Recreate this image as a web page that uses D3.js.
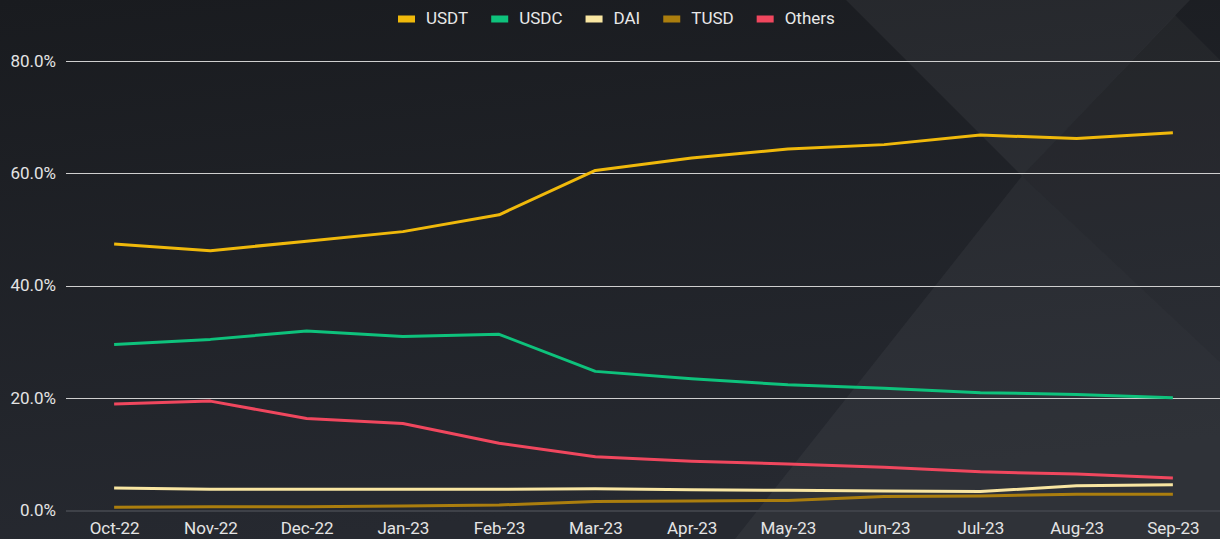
<!DOCTYPE html>
<html>
<head>
<meta charset="utf-8">
<script src="https://cdn.jsdelivr.net/npm/d3@7"></script>
<style>
  html, body { margin: 0; padding: 0; background: #1d1f24; }
  svg { display: block; }
  text { font-family: Roboto, "Liberation Sans", Arial, sans-serif; }
</style>
</head>
<body>
<svg id="chart" width="1220" height="539"></svg>
<script>
const months = ["Oct-22","Nov-22","Dec-22","Jan-23","Feb-23","Mar-23","Apr-23","May-23","Jun-23","Jul-23","Aug-23","Sep-23"];
const usdt   = [47.4, 46.2, 47.9, 49.6, 52.6, 60.5, 62.7, 64.3, 65.1, 66.8, 66.2, 67.2];
const usdc   = [29.5, 30.4, 31.9, 30.9, 31.3, 24.7, 23.4, 22.3, 21.7, 20.9, 20.6, 20.0];
const dai    = [3.9, 3.7, 3.7, 3.7, 3.7, 3.8, 3.6, 3.5, 3.4, 3.3, 4.3, 4.5];
const tusd   = [0.5, 0.6, 0.6, 0.7, 0.9, 1.5, 1.6, 1.7, 2.4, 2.5, 2.8, 2.8];
const others = [18.9, 19.4, 16.3, 15.4, 11.9, 9.5, 8.7, 8.2, 7.6, 6.8, 6.4, 5.7];
const seriesNames = ["USDT","USDC","DAI","TUSD","Others"];
const seriesColors = ["#f0b90b","#0ec27c","#f9e6a2","#ab7e0e","#f0475e"];
const yTicks = [0, 20, 40, 60, 80];

const seriesValues = [usdt, usdc, dai, tusd, others];
const W = 1220, H = 539;
const svg = d3.select("#chart");

// background
const defs = svg.append("defs");
const grad = defs.append("linearGradient").attr("id","bg").attr("x1","0").attr("y1","0").attr("x2","0.25").attr("y2","1");
grad.append("stop").attr("offset","0").attr("stop-color","#191b1f");
grad.append("stop").attr("offset","1").attr("stop-color","#262930");
svg.append("rect").attr("width",W).attr("height",H).attr("fill","url(#bg)");

const shapes = [
  {pts:[[846,0],[1190,0],[1022,176]], o:0.05},
  {pts:[[1022,176],[1220,362],[1220,539],[735,539]], o:0.045},
  {pts:[[1022,176],[1175,15],[1220,60],[1220,362]], o:0.03}
];
shapes.forEach(s => {
  svg.append("polygon")
    .attr("points", s.pts.map(p => p.join(",")).join(" "))
    .attr("fill", "#ffffff")
    .attr("fill-opacity", s.o);
});

// scales
const x = d3.scalePoint().domain(months).range([66, 1221]).padding(0.5);
const y = d3.scaleLinear().domain([0, 80]).range([510, 61]);

// grid
const grid = svg.append("g");
yTicks.filter(t => t > 0).forEach(t => {
  grid.append("line")
    .attr("x1", 66).attr("x2", W)
    .attr("y1", Math.round(y(t)) + 0.5).attr("y2", Math.round(y(t)) + 0.5)
    .attr("stroke", "#cfcfcf").attr("stroke-width", 1);
});

// y axis
const yAxis = d3.axisLeft(y).tickValues(yTicks).tickSize(0).tickPadding(10)
  .tickFormat(d => d3.format(".1f")(d) + "%");
const yg = svg.append("g").attr("transform", "translate(66,0)").call(yAxis);
yg.select(".domain").remove();
yg.selectAll("text").attr("fill","#e4e4e4").style("font-size","17px");

// x axis
const xAxis = d3.axisBottom(x).tickSize(0).tickPadding(12);
const xg = svg.append("g").attr("transform", "translate(0,510)").call(xAxis);
xg.select(".domain").attr("stroke","#3e4148").attr("stroke-width",2).attr("d","M66,1H1221");
xg.selectAll("text").attr("fill","#e4e4e4").style("font-size","17px");

// lines
const line = d3.line().x((d,i) => x(months[i])).y(d => y(d));
seriesValues.forEach((vals, k) => {
  svg.append("path")
    .datum(vals)
    .attr("d", line)
    .attr("fill","none")
    .attr("stroke", seriesColors[k])
    .attr("stroke-width", 3)
    .attr("stroke-linejoin","round");
});

// legend
const lg = svg.append("g");
let cx = 0;
seriesNames.forEach((n, k) => {
  const g = lg.append("g");
  g.append("rect").attr("x", cx).attr("y", -3).attr("width", 17).attr("height", 7).attr("fill", seriesColors[k]);
  const t = g.append("text").attr("x", cx + 28).attr("y", 0).attr("dy","0.35em")
    .attr("fill","#e8e8e8").style("font-size","17px").text(n);
  const w = t.node().getComputedTextLength();
  cx += 28 + w + 23;
});
const totalW = cx - 23;
lg.attr("transform", `translate(${Math.round(616 - totalW/2)},18.5)`);
</script>
</body>
</html>
